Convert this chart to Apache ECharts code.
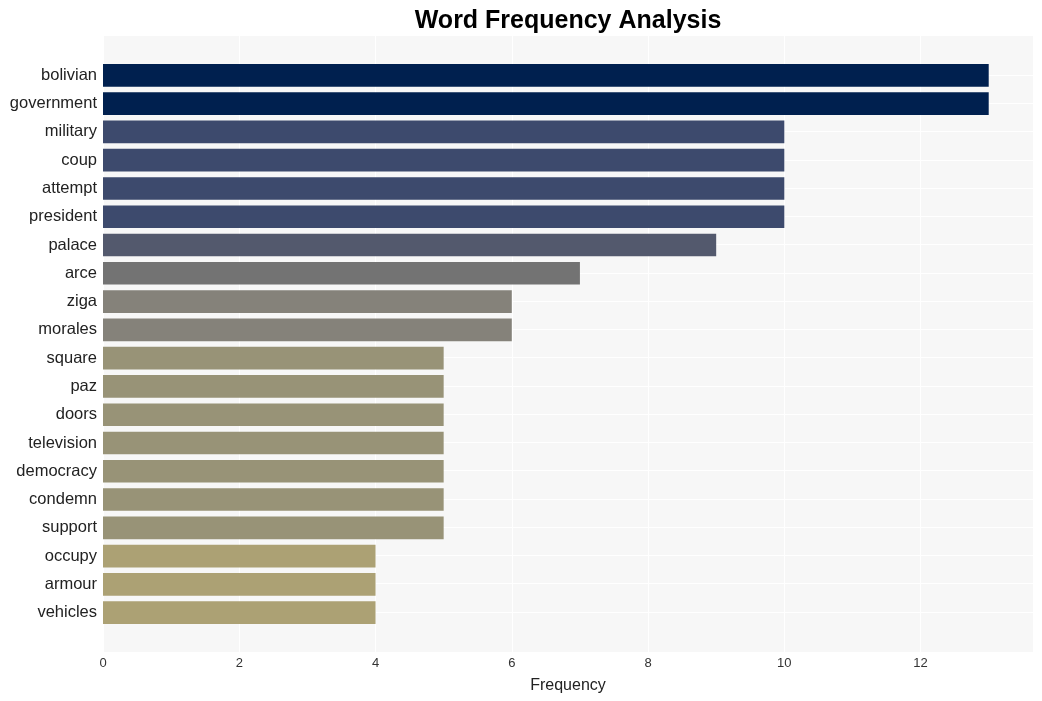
<!DOCTYPE html>
<html>
<head>
<meta charset="utf-8">
<script src="https://cdn.jsdelivr.net/npm/echarts@6/dist/echarts.min.js"></script>
<style>html,body{margin:0;padding:0;background:#fff}#c{width:1042px;height:701px}</style>
</head>
<body>
<div id="c"></div>
<script>
var words = ["bolivian","government","military","coup","attempt","president","palace","arce","ziga","morales","square","paz","doors","television","democracy","condemn","support","occupy","armour","vehicles"];
var counts = [13,13,10,10,10,10,9,7,6,6,5,5,5,5,5,5,5,4,4,4];
var colorByCount = {13:"#00204f",10:"#3d4a6d",9:"#53596d",7:"#737373",6:"#85827a",5:"#989377",4:"#aca174"};
var xTicks = [0,2,4,6,8,10,12];

var XMAX = 13.65;
var chart = echarts.init(document.getElementById('c'));
var font = "'Liberation Sans', Arial, sans-serif";
chart.setOption({
  animation: false,
  backgroundColor: '#ffffff',
  title: {
    text: 'Word Frequency Analysis', left: 563, top: 4, textAlign: 'center',
    textStyle: {fontFamily: font, fontSize: 25, fontWeight: 'bold', color: '#000'}
  },
  grid: [
    {left: 103, right: 9, top: 36, bottom: 49, show: true, backgroundColor: '#f7f7f7', borderWidth: 0},
    {left: 103, right: 9, top: 75, bottom: 89, show: false},
    {left: 103, right: 9, top: 61.2, bottom: 74.2, show: false}
  ],
  xAxis: [
    {gridIndex: 0, type: 'value', min: 0, max: XMAX, interval: 2,
     axisLine: {show: false}, axisTick: {show: false},
     axisLabel: {fontFamily: font, fontSize: 13, color: '#333', margin: 5,
       formatter: function(v){ return xTicks.indexOf(v) >= 0 ? String(v) : ''; }},
     splitLine: {show: true, lineStyle: {color: '#ffffff', width: 1}},
     name: 'Frequency', nameLocation: 'middle', nameGap: 26,
     nameTextStyle: {fontFamily: font, fontSize: 16, color: '#222'}, z: 1},
    {gridIndex: 1, type: 'value', min: 0, max: XMAX, show: false},
    {gridIndex: 2, type: 'value', min: 0, max: XMAX, show: false}
  ],
  yAxis: [
    {gridIndex: 0, type: 'value', show: false},
    {gridIndex: 1, type: 'value', min: 0, max: 19, interval: 1, inverse: true,
     axisLine: {show: false}, axisTick: {show: false}, axisLabel: {show: false},
     splitLine: {show: true, lineStyle: {color: '#ffffff', width: 1}}, z: 1},
    {gridIndex: 2, type: 'category', data: words, inverse: true,
     axisLine: {show: false}, axisTick: {show: false},
     axisLabel: {fontFamily: font, fontSize: 16.5, color: '#222', margin: 6, padding: [6, 0, 0, 0]},
     splitLine: {show: false}}
  ],
  series: [{
    type: 'bar', xAxisIndex: 2, yAxisIndex: 2,
    barWidth: '80%',
    data: counts.map(function(v){ return {value: v, itemStyle: {color: colorByCount[v]}}; }),
    z: 3
  }]
});
</script>
</body>
</html>
